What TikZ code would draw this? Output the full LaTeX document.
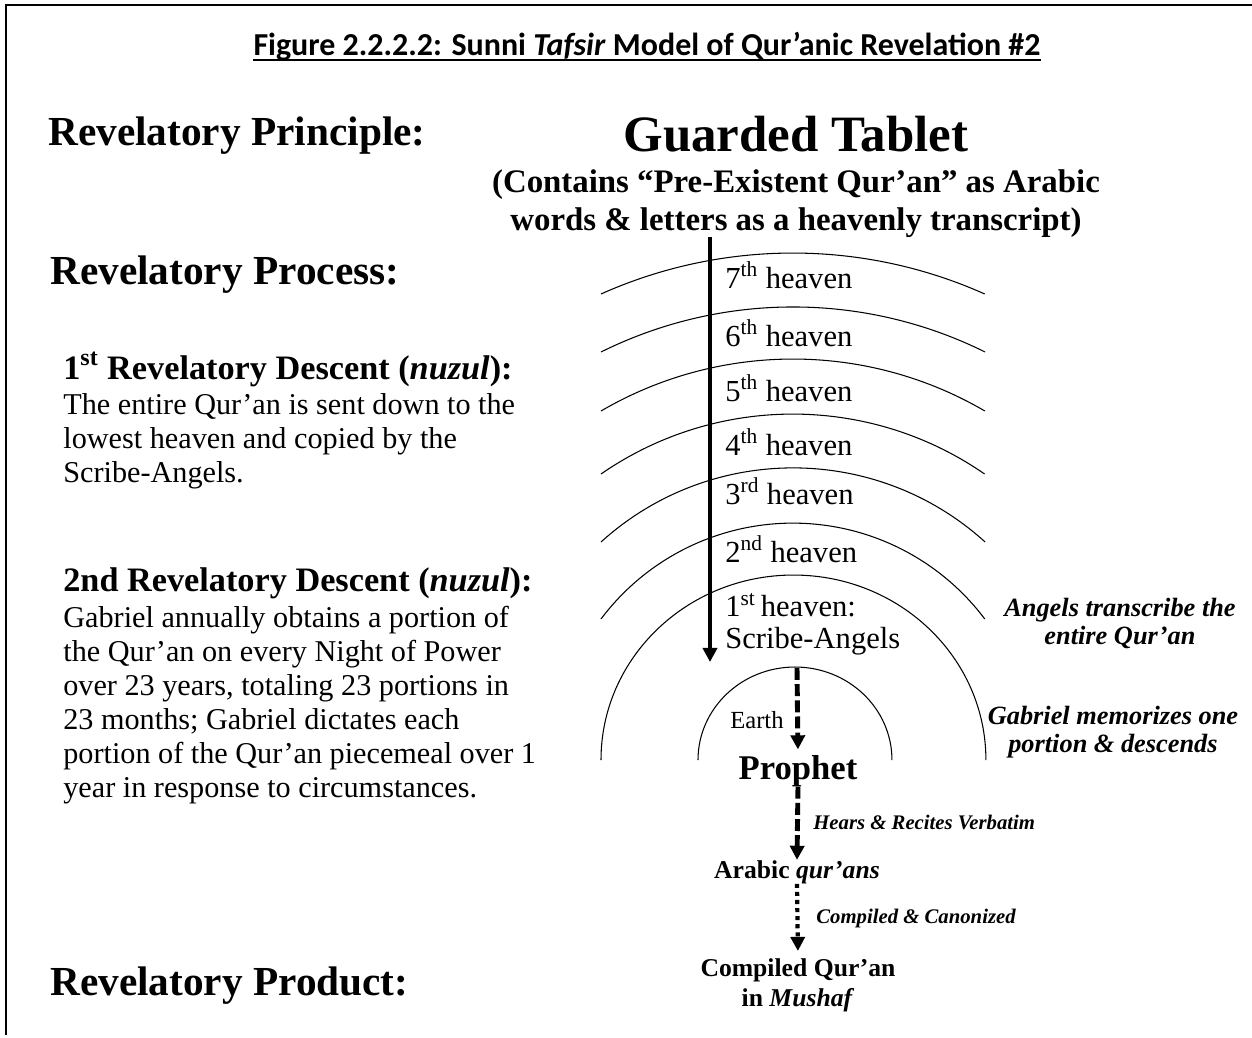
\documentclass[tikz,border=0pt]{standalone}
\usepackage{fontspec}
\setmainfont{Liberation Serif}
\newfontfamily\titlefont{Carlito}
\usetikzlibrary{arrows.meta,positioning}

\begin{document}
\begin{tikzpicture}[x=0.02cm,y=-0.02cm,
        heading/.style={font=\bfseries\fontsize{23.5}{28}\selectfont, anchor=base west, inner sep=0pt},
        subhead/.style={font=\bfseries\fontsize{19.5}{23}\selectfont, anchor=base west, inner sep=0pt},
        bodytext/.style={font=\fontsize{17.2}{19.35}\selectfont, align=left, anchor=base west, inner sep=0pt},
        heaven/.style={font=\fontsize{17.4}{18.2}\selectfont, anchor=base west, inner sep=0pt},
        note/.style={font=\bfseries\itshape\fontsize{15}{15.7}\selectfont, align=center, anchor=base, inner sep=0pt},
        steplabel/.style={font=\bfseries\itshape\fontsize{11.8}{14}\selectfont, anchor=base west, inner sep=0pt},
        stage/.style={font=\bfseries\fontsize{14.6}{17}\selectfont, align=center, anchor=base, inner sep=0pt},
        sky/.style={line width=0.6pt},
        descent/.style={line width=2.4pt, -{Triangle[width=8pt,length=8pt]}},
        dashdescent/.style={descent, line width=2.8pt, dash pattern=on 6.8pt off 2.4pt},
        dotdescent/.style={descent, dash pattern=on 2.3pt off 2.3pt}]
        \useasboundingbox (0,0) rectangle (1252,1038);
        \draw[line width=1pt] (6,1035) -- (6,5) -- (1252,5);

        % Title
        \node[font=\titlefont\bfseries\fontsize{18.2}{22}\selectfont, anchor=base, inner sep=0pt] (title) at (647,55)
            {Figure 2.2.2.2: Sunni \textit{Tafsir} Model of Qur’anic Revelation \#2};
        \draw[line width=1.1pt] ([yshift=-3pt]title.base west) -- ([yshift=-3pt]title.base east);

        % Left column (multi-line nodes sit on their last baseline)
        \node[heading] (principle) at (48,145) {Revelatory Principle:};
        \node[heading] (process) at (50,284) {Revelatory Process:};
        \node[subhead] (desc1) at (63,379) {1\textsuperscript{st} Revelatory Descent (\textit{nuzul}):};
        \node[bodytext] (desc1text) at (63,482)
            {The entire Qur’an is sent down to the\\lowest heaven and copied by the\\Scribe-Angels.};
        \node[subhead] (desc2) at (63,591) {2nd Revelatory Descent (\textit{nuzul}):};
        \node[bodytext] (desc2text) at (63,797)
            {Gabriel annually obtains a portion of\\the Qur’an on every Night of Power\\over 23 years, totaling 23 portions in\\23 months; Gabriel dictates each\\portion of the Qur’an piecemeal over 1\\year in response to circumstances.};
        \node[heading] (product) at (50,995) {Revelatory Product:};

        % Guarded Tablet
        \node[font=\bfseries\fontsize{29}{34}\selectfont, anchor=base, inner sep=0pt] (tablet) at (796,151) {Guarded Tablet};
        \node[font=\bfseries\fontsize{18.7}{21.5}\selectfont, align=center, anchor=base, inner sep=0pt] (tabletnote) at (796,230)
            {(Contains “Pre-Existent Qur’an” as Arabic\\words \& letters as a heavenly transcript)};

        % Heavens
        \draw[sky] (601,294) arc[start angle=114.1, end angle=65.9, radius=9.40cm];
        \draw[sky] (601,352) arc[start angle=116.4, end angle=63.6, radius=8.64cm];
        \draw[sky] (601,411) arc[start angle=120.3, end angle=59.7, radius=7.61cm];
        \draw[sky] (601,474) arc[start angle=124.7, end angle=55.3, radius=6.74cm];
        \draw[sky] (601,542) arc[start angle=132.2, end angle=47.8, radius=5.72cm];
        \draw[sky] (601,619) arc[start angle=143.1, end angle=36.9, radius=4.80cm];
        \draw[sky] (601,760) arc[start angle=180, end angle=0, x radius=3.85cm, y radius=3.70cm];
        \draw[sky] (698,760) arc[start angle=180, end angle=0, x radius=1.94cm, y radius=1.86cm];

        \node[heaven] (h7) at (725,288) {7\textsuperscript{th} heaven};
        \node[heaven] (h6) at (725,346) {6\textsuperscript{th} heaven};
        \node[heaven] (h5) at (725,401) {5\textsuperscript{th} heaven};
        \node[heaven] (h4) at (725,455) {4\textsuperscript{th} heaven};
        \node[heaven] (h3) at (725,504) {3\textsuperscript{rd} heaven};
        \node[heaven] (h2) at (725,562) {2\textsuperscript{nd} heaven};
        \node[heaven, align=left] (h1) at (725,648) {1\textsuperscript{st}\,heaven:\\Scribe-Angels};
        \node[font=\fontsize{14}{16}\selectfont, anchor=base west, inner sep=0pt] (earth) at (730,728) {Earth};

        % Right notes
        \node[note] (transcribe) at (1120,644) {Angels transcribe the\\entire Qur’an};
        \node[note] (memorize) at (1113,752) {Gabriel memorizes one\\portion \& descends};

        % Stages
        \node[stage, font=\bfseries\fontsize{19.7}{23}\selectfont] (prophet) at (798,779) {Prophet};
        \node[stage] (arabic) at (797,878) {Arabic \textit{qur’ans}};
        \node[stage] (mushaf) at (798,1006) {Compiled Qur’an\\in \textit{Mushaf}};
        \node[steplabel] (recite) at (813,829) {Hears \& Recites Verbatim};
        \node[steplabel] (compile) at (816,923) {Compiled \& Canonized};

        % Edges
        \coordinate (scribetip) at (710,662);
        \coordinate (earthtop) at (797,668);
        \draw[descent] (tabletnote.south -| scribetip) -- (scribetip);
        \draw[dashdescent, shorten >=3pt] (earthtop) -- (prophet.north);
        \draw[dashdescent] (prophet.south) -- (arabic.north);
        \draw[dotdescent, shorten >=4pt] (arabic.south) -- (mushaf.north);
    \end{tikzpicture}
\end{document}
